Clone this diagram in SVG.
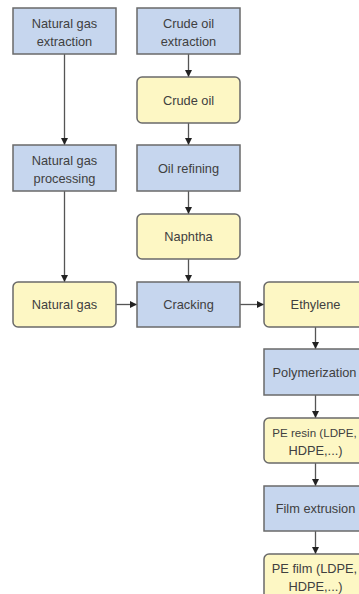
<svg xmlns="http://www.w3.org/2000/svg" width="359" height="594" viewBox="0 0 359 594">
<style>
.bg{fill:#ffffff}
.p{fill:#c6d6ee;stroke:#6a6a6a;stroke-width:1.5}
.m{fill:#fdf7c4;stroke:#6a6a6a;stroke-width:1.5}
text{font-family:"Liberation Sans","Open Sans",sans-serif;font-size:12.8px;fill:#404040;text-anchor:middle}
.c{stroke:#555555;stroke-width:1.3;fill:none;marker-end:url(#ah)}
</style>
<defs>
<marker id="ah" viewBox="0 0 8 8" refX="8" refY="4" markerWidth="7" markerHeight="7" markerUnits="userSpaceOnUse" orient="auto">
<path d="M0,0 L8,4 L0,8 Z" fill="#222222"/>
</marker>
</defs>
<rect class="bg" x="0" y="0" width="359" height="594"/>
<g id="connectors">
<line class="c" x1="64.5" y1="54" x2="64.5" y2="145"/>
<line class="c" x1="64.5" y1="191" x2="64.5" y2="282"/>
<line class="c" x1="188.5" y1="54" x2="188.5" y2="77"/>
<line class="c" x1="188.5" y1="123" x2="188.5" y2="145"/>
<line class="c" x1="188.5" y1="191" x2="188.5" y2="214"/>
<line class="c" x1="188.5" y1="259" x2="188.5" y2="282"/>
<line class="c" x1="116" y1="304.5" x2="137" y2="304.5"/>
<line class="c" x1="240" y1="304.5" x2="264" y2="304.5"/>
<line class="c" x1="315.5" y1="327" x2="315.5" y2="349"/>
<line class="c" x1="315.5" y1="395" x2="315.5" y2="418"/>
<line class="c" x1="315.5" y1="463" x2="315.5" y2="486"/>
<line class="c" x1="315.5" y1="531" x2="315.5" y2="554"/>
</g>
<g id="ng-extraction"><rect class="p" x="13" y="8" width="103" height="46"/><text x="64.5" y="27.5">Natural gas</text><text x="64.5" y="45.5">extraction</text></g>
<g id="crude-extraction"><rect class="p" x="137" y="8" width="103" height="46"/><text x="188.5" y="27.5">Crude oil</text><text x="188.5" y="45.5">extraction</text></g>
<g id="crude-oil"><rect class="m" x="137" y="77" width="103" height="46" rx="5"/><text x="188.5" y="104.5">Crude oil</text></g>
<g id="ng-processing"><rect class="p" x="13" y="145" width="103" height="46"/><text x="64.5" y="164.5">Natural gas</text><text x="64.5" y="182.5">processing</text></g>
<g id="oil-refining"><rect class="p" x="137" y="145" width="103" height="46"/><text x="188.5" y="172.5">Oil refining</text></g>
<g id="naphtha"><rect class="m" x="137" y="214" width="103" height="45" rx="5"/><text x="188.5" y="241">Naphtha</text></g>
<g id="natural-gas"><rect class="m" x="13" y="282" width="103" height="45" rx="5"/><text x="64.5" y="309">Natural gas</text></g>
<g id="cracking"><rect class="p" x="137" y="282" width="103" height="45"/><text x="188.5" y="309">Cracking</text></g>
<g id="ethylene"><rect class="m" x="264" y="282" width="103" height="45" rx="5"/><text x="315.5" y="309">Ethylene</text></g>
<g id="polymerization"><rect class="p" x="264" y="349" width="103" height="46"/><text x="314.5" y="376.5">Polymerization</text></g>
<g id="pe-resin"><rect class="m" x="264" y="418" width="103" height="45" rx="5"/><text x="314.5" y="436.5" style="font-size:11.6px">PE resin (LDPE,</text><text x="315.5" y="454.5">HDPE,...)</text></g>
<g id="film-extrusion"><rect class="p" x="264" y="486" width="103" height="45"/><text x="315.5" y="513">Film extrusion</text></g>
<g id="pe-film"><rect class="m" x="264" y="554" width="103" height="45" rx="5"/><text x="314.5" y="572.5">PE film (LDPE,</text><text x="315.5" y="590.5">HDPE,...)</text></g>
</svg>
